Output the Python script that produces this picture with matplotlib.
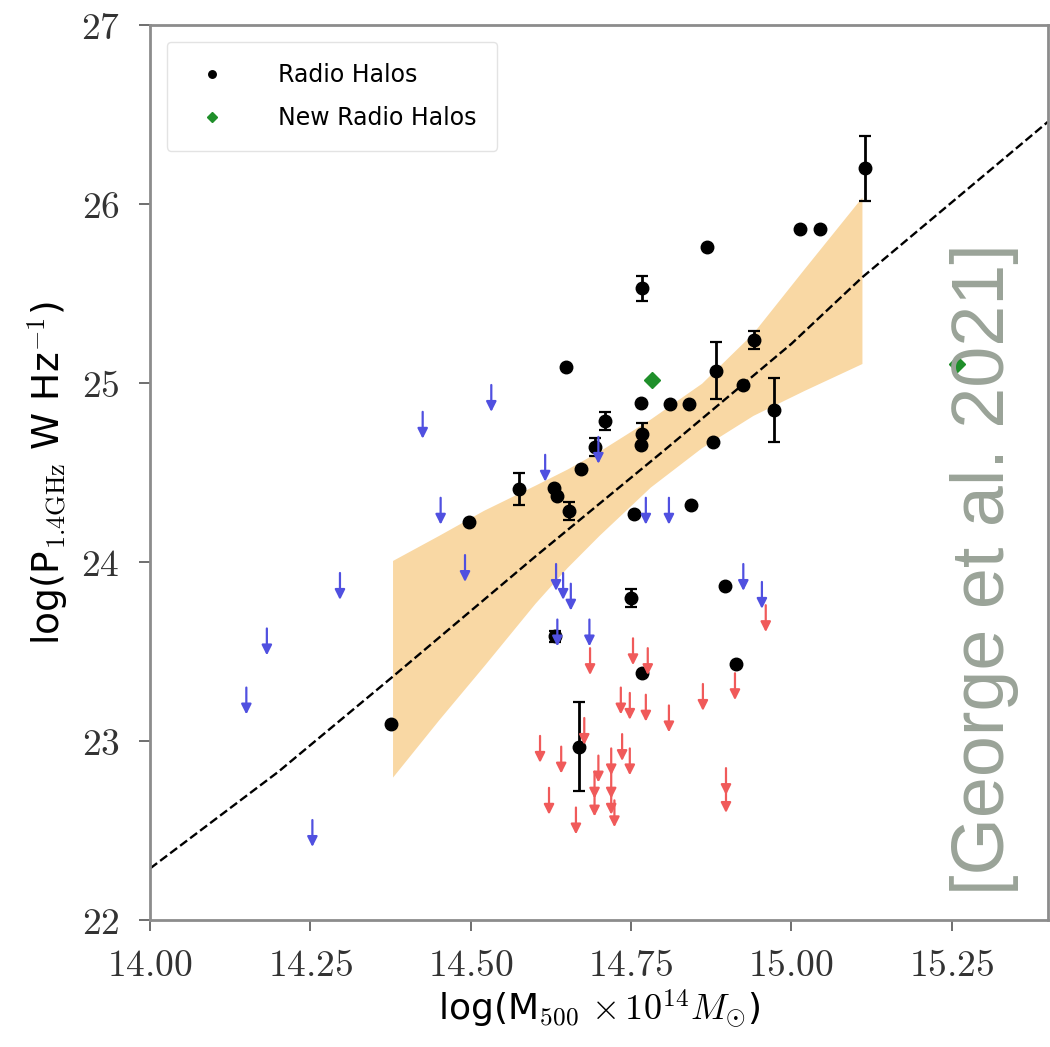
import matplotlib
matplotlib.use("Agg")
import matplotlib.pyplot as plt
from matplotlib.ticker import FuncFormatter

plt.rcParams["mathtext.fontset"] = "cm"
plt.rcParams["font.family"] = ["DejaVu Sans"]

# Radio halos (black points) with symmetric errors
rh_x = [15.115, 15.014, 15.044, 14.869, 14.767, 14.648, 14.942, 14.882, 14.925, 14.973,
        14.765, 14.811, 14.840, 14.710, 14.767, 14.765, 14.693, 14.878, 14.672, 14.575,
        14.630, 14.635, 14.653, 14.497, 14.755, 14.843, 14.897, 14.750, 14.632, 14.767,
        14.913, 14.375, 14.668]
rh_y = [26.20, 25.86, 25.86, 25.76, 25.53, 25.09, 25.24, 25.07, 24.99, 24.85,
        24.89, 24.885, 24.885, 24.79, 24.715, 24.657, 24.646, 24.669, 24.518, 24.407,
        24.414, 24.368, 24.287, 24.222, 24.268, 24.321, 23.865, 23.80, 23.587, 23.379,
        23.430, 23.094, 22.97]
rh_err = [0.18, 0, 0, 0, 0.07, 0, 0.05, 0.16, 0, 0.18,
          0, 0, 0, 0.05, 0.06, 0, 0.05, 0, 0, 0.09,
          0, 0, 0.05, 0, 0, 0, 0, 0.05, 0.03, 0,
          0, 0, 0.25]

# new radio halos (green diamonds)
new_x = [14.783, 15.258]
new_y = [25.02, 25.11]

# upper limits (arrow tail = limit value)
blue_x = [14.150, 14.182, 14.253, 14.296, 14.425, 14.453, 14.491, 14.532, 14.616, 14.633,
          14.635, 14.644, 14.656, 14.685, 14.699, 14.773, 14.809, 14.925, 14.954]
blue_y = [23.30, 23.63, 22.56, 23.94, 24.84, 24.36, 24.04, 24.99, 24.60, 23.99,
          23.68, 23.94, 23.88, 23.68, 24.70, 24.36, 24.36, 23.99, 23.89]

red_x = [14.686, 14.753, 14.776, 14.734, 14.748, 14.773, 14.809, 14.862, 14.608, 14.641,
         14.677, 14.699, 14.719, 14.736, 14.748, 14.622, 14.664, 14.693, 14.693, 14.719,
         14.719, 14.724, 14.898, 14.898, 14.960, 14.912]
red_y = [23.52, 23.575, 23.52, 23.30, 23.27, 23.26, 23.20, 23.32, 23.03, 22.97,
         23.13, 22.92, 22.96, 23.04, 22.96, 22.74, 22.63, 22.83, 22.73, 22.83,
         22.74, 22.67, 22.85, 22.75, 23.76, 23.38]
arrow_len = 0.15

# best fit line and confidence band
fit_x = [14.0, 14.2, 14.378, 14.6, 14.8, 15.0, 15.11, 15.4]
fit_y = [22.29, 22.83, 23.36, 24.03, 24.62, 25.22, 25.59, 26.46]

band_x = [14.378, 14.45, 14.52, 14.6, 14.65, 14.7, 14.78, 14.86, 14.94, 15.02, 15.11]
band_lo = [22.80, 23.12, 23.42, 23.77, 23.97, 24.15, 24.42, 24.64, 24.82, 24.96, 25.11]
band_hi = [24.01, 24.15, 24.29, 24.43, 24.52, 24.62, 24.80, 25.00, 25.28, 25.64, 26.04]

fig = plt.figure(figsize=(10.5, 10.47), dpi=100)
ax = fig.add_axes([0.143, 0.121, 0.855, 0.855])

ax.fill_between(band_x, band_lo, band_hi, color="#f9d8a4", lw=0, zorder=1)
ax.plot(fit_x, fit_y, "k--", lw=1.7, zorder=2)

ax.errorbar(rh_x, rh_y, yerr=rh_err, fmt="none", ecolor="black",
            elinewidth=2, capsize=4, capthick=1.6, zorder=3)
ax.plot(rh_x, rh_y, "o", color="black", ms=9, zorder=3, label="Radio Halos")
ax.plot(new_x, new_y, "D", color="#1f8f2a", ms=8, zorder=3, label="New Radio Halos")

for xs, ys, col in [(blue_x, blue_y, "#5050e0"), (red_x, red_y, "#f05a5a")]:
    for x, y in zip(xs, ys):
        ax.annotate("", xy=(x, y - arrow_len), xytext=(x, y),
                    arrowprops=dict(arrowstyle="-|>,head_width=0.3,head_length=0.6",
                                    color=col, lw=1.6, shrinkA=0, shrinkB=0),
                    zorder=4)

ax.set_xlim(14.0, 15.4)
ax.set_ylim(22, 27)
ax.set_xticks([14.0, 14.25, 14.5, 14.75, 15.0, 15.25])
ax.set_yticks([22, 23, 24, 25, 26, 27])
ax.xaxis.set_major_formatter(FuncFormatter(lambda v, p: r"$%.2f$" % v))
ax.yaxis.set_major_formatter(FuncFormatter(lambda v, p: r"$%d$" % v))
ax.tick_params(labelsize=27, length=8, width=1.2, color="#555555",
               labelcolor="#333333", top=False, right=False)
ax.tick_params(axis="x", pad=12)
ax.tick_params(axis="y", pad=14)

for sp in ax.spines.values():
    sp.set_color("#8c8c8c")
    sp.set_linewidth(2)

ax.set_xlabel(r"log(M$_{\rm 500}$ $\times\,10^{14}M_{\odot}$)", fontsize=26, labelpad=2)
ax.set_ylabel(r"log(P$_{\rm 1.4GHz}$ W Hz$^{-1}$)", fontsize=27, labelpad=8)

ax.legend(loc="upper left", fontsize=17, markerscale=0.6, frameon=True, fancybox=True,
          edgecolor="#dddddd", borderpad=0.9, labelspacing=0.8, handletextpad=1.8,
          borderaxespad=0.7)

fig.text(0.938, 0.456, "[George et al. 2021]", rotation=90, fontsize=53,
         family="Liberation Sans", color="#9aa398", ha="center", va="center")

fig.savefig("out.png", dpi=100)
